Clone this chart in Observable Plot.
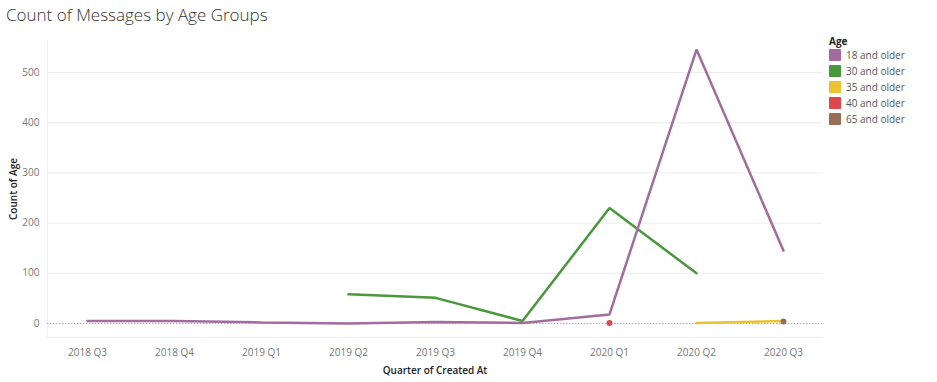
<!DOCTYPE html>
<html>
<head>
<meta charset="utf-8">
<script src="https://cdn.jsdelivr.net/npm/d3@7"></script>
<script src="https://cdn.jsdelivr.net/npm/@observablehq/plot@0.6"></script>
<style>
  html, body { margin: 0; padding: 0; background: #fff; }
  body { width: 937px; height: 382px; position: relative; overflow: hidden; font-family: "Open Sans", Lato, sans-serif; }
  #title { position: absolute; left: 6px; top: 3px; font-size: 17px; color: #333; font-weight: 300; letter-spacing: 0px; }
  #chart { position: absolute; left: 0; top: 35px; }
  #legend { position: absolute; left: 829px; top: 36px; font-size: 10px; color: #555; }
  #legend .hd { font-weight: 700; color: #222; height: 11px; line-height: 11px; }
  #legend .it { display: flex; align-items: center; height: 16px; }
  #legend .sw { width: 12px; height: 12px; margin-right: 5px; border-radius: 1px; }
</style>
</head>
<body>
<div id="title">Count of Messages by Age Groups</div>
<div id="chart"></div>
<div id="legend"></div>
<script>
const quarters = ["2018 Q3","2018 Q4","2019 Q1","2019 Q2","2019 Q3","2019 Q4","2020 Q1","2020 Q2","2020 Q3"];
const ageGroups = ["18 and older","30 and older","35 and older","40 and older","65 and older"];
const ageColors = ["#a26c9f","#4a983c","#ecc232","#e0474c","#9a6e55"];

const age18Quarters = ["2018 Q3","2018 Q4","2019 Q1","2019 Q2","2019 Q3","2019 Q4","2020 Q1","2020 Q2","2020 Q3"];
const age18Counts   = [5, 5, 2, 0, 3, 1, 18, 546, 145];
const age30Quarters = ["2019 Q2","2019 Q3","2019 Q4","2020 Q1","2020 Q2"];
const age30Counts   = [58, 51, 5, 230, 100];
const age35Quarters = ["2020 Q2","2020 Q3"];
const age35Counts   = [1, 5];
const age40Quarters = ["2020 Q1"];
const age40Counts   = [1];
const age65Quarters = ["2020 Q3"];
const age65Counts   = [4];
const yTicks = [0, 100, 200, 300, 400, 500];

const toRows = (age, qs, vs) => qs.map((q, i) => ({age, quarter: q, count: vs[i]}));
const rows = [
  ...toRows("30 and older", age30Quarters, age30Counts),
  ...toRows("18 and older", age18Quarters, age18Counts),
  ...toRows("35 and older", age35Quarters, age35Counts),
];
const dots = [
  ...toRows("40 and older", age40Quarters, age40Counts),
  ...toRows("65 and older", age65Quarters, age65Counts),
];

const plot = Plot.plot({
  width: 937,
  height: 347,
  marginLeft: 47,
  marginRight: 115,
  marginTop: 5,
  marginBottom: 45,
  style: { fontFamily: "Open Sans, Lato, sans-serif", fontSize: "10px", color: "#666", background: "#fff" },
  x: { type: "point", domain: quarters, padding: 0.42, label: null },
  y: { domain: [-28, 564], label: null },
  color: { domain: ageGroups, range: ageColors },
  marks: [
    Plot.gridY(yTicks.filter(d => d > 0), { stroke: "#ececec", strokeOpacity: 1 }),
    Plot.frame({ anchor: "left", stroke: "#f0f0f0" }),
    Plot.frame({ anchor: "bottom", stroke: "#f0f0f0" }),
    Plot.ruleY([0], { stroke: "#aaa", strokeDasharray: "1.5,1.5", strokeWidth: 1 }),
    Plot.axisY({ ticks: yTicks, tickSize: 0, tickPadding: 8, label: null, fill: "#777" }),
    Plot.axisX({ tickSize: 0, tickPadding: 11, label: null, fill: "#777" }),
    Plot.text(["Quarter of Created At"], { frameAnchor: "bottom", dy: 36, fill: "#222", fontSize: 10, fontWeight: 600 }),
    Plot.text(["Count of Age"], { frameAnchor: "left", dx: -34, dy: 0, rotate: -90, textAnchor: "middle", fill: "#222", fontSize: 10, fontWeight: 600 }),
    Plot.line(rows, { x: "quarter", y: "count", z: "age", stroke: "age", strokeWidth: 2.5, strokeLinejoin: "miter" }),
    Plot.dot(dots, { x: "quarter", y: "count", fill: "age", stroke: "age", r: 2.2 })
  ]
});
document.getElementById("chart").appendChild(plot);

const legend = document.getElementById("legend");
const hd = document.createElement("div"); hd.className = "hd"; hd.textContent = "Age"; legend.appendChild(hd);
ageGroups.forEach((g, i) => {
  const it = document.createElement("div"); it.className = "it";
  const sw = document.createElement("div"); sw.className = "sw"; sw.style.background = ageColors[i];
  const tx = document.createElement("span"); tx.textContent = g;
  it.appendChild(sw); it.appendChild(tx); legend.appendChild(it);
});
</script>
</body>
</html>
